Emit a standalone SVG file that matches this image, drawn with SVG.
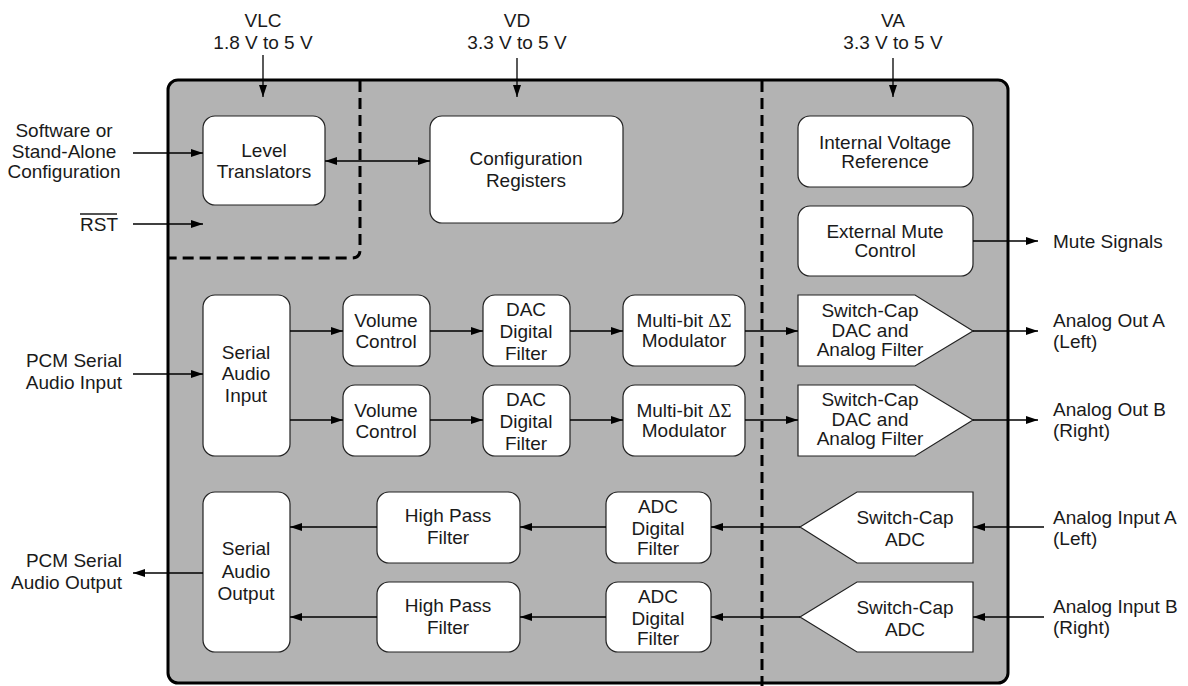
<svg xmlns="http://www.w3.org/2000/svg" width="1188" height="686" viewBox="0 0 1188 686">
<defs>
<marker id="ah" viewBox="0 0 12 8" refX="12" refY="4" markerWidth="12" markerHeight="8" markerUnits="userSpaceOnUse" orient="auto-start-reverse">
<path d="M0,0 L12,4 L0,8 Z" fill="#000"/>
</marker>
</defs>
<style>
text{font-family:"Liberation Sans",Arial,sans-serif;font-size:19px;fill:#1a1a1a}
.c{text-anchor:middle}
.r{text-anchor:end}
.s{font-family:"Liberation Serif","Times New Roman",serif}
.b{fill:#fff;stroke:#222;stroke-width:1.2}
.w{stroke:#000;stroke-width:1.3;fill:none;marker-end:url(#ah)}
.d{stroke:#000;stroke-width:3;fill:none;stroke-dasharray:11 6}
</style>
<rect x="168" y="80" width="840" height="603" rx="10" fill="#b3b3b3" stroke="#000" stroke-width="3"/>
<path class="d" d="M360,81 V250 Q360,258 352,258 H169"/>
<path class="d" d="M762,81 V686"/>

<g id="labels-top">
<text class="c" x="263" y="27">VLC</text><text class="c" x="263" y="49">1.8 V to 5 V</text>
<text class="c" x="517" y="27">VD</text><text class="c" x="517" y="49">3.3 V to 5 V</text>
<text class="c" x="893" y="27">VA</text><text class="c" x="893" y="49">3.3 V to 5 V</text>
</g>
<g id="labels-left">
<text class="c" x="64" y="137">Software or</text>
<text class="c" x="64" y="158">Stand-Alone</text>
<text class="c" x="64" y="178">Configuration</text>
<text class="r" x="118" y="231">RST</text>
<line x1="80" y1="214" x2="117" y2="214" stroke="#1a1a1a" stroke-width="1.3"/>
<text class="r" x="122" y="367">PCM Serial</text>
<text class="r" x="122" y="389">Audio Input</text>
<text class="r" x="122" y="567">PCM Serial</text>
<text class="r" x="122" y="589">Audio Output</text>
</g>
<g id="labels-right">
<text x="1053" y="248">Mute Signals</text>
<text x="1053" y="327">Analog Out A</text><text x="1053" y="348">(Left)</text>
<text x="1053" y="416">Analog Out B</text><text x="1053" y="437">(Right)</text>
<text x="1053" y="524">Analog Input A</text><text x="1053" y="545">(Left)</text>
<text x="1053" y="613">Analog Input B</text><text x="1053" y="634">(Right)</text>
</g>

<g id="level-translators"><rect class="b" x="203" y="116" width="122" height="89" rx="12"/>
<text class="c" x="264" y="157">Level</text><text class="c" x="264" y="178">Translators</text></g>
<g id="config-registers"><rect class="b" x="430" y="116" width="193" height="107" rx="12"/>
<text class="c" x="526" y="165">Configuration</text><text class="c" x="526" y="187">Registers</text></g>
<g id="int-vref"><rect class="b" x="798" y="116" width="175" height="71" rx="12"/>
<text class="c" x="885" y="149">Internal Voltage</text><text class="c" x="885" y="168">Reference</text></g>
<g id="ext-mute"><rect class="b" x="798" y="206" width="175" height="70" rx="12"/>
<text class="c" x="885" y="238">External Mute</text><text class="c" x="885" y="257">Control</text></g>

<g id="serial-audio-input"><rect class="b" x="203" y="295" width="87" height="161" rx="12"/>
<text class="c" x="246" y="359">Serial</text><text class="c" x="246" y="380">Audio</text><text class="c" x="246" y="402">Input</text></g>
<g id="volume-a"><rect class="b" x="343" y="295" width="87" height="71" rx="12"/>
<text class="c" x="386" y="327">Volume</text><text class="c" x="386" y="348">Control</text></g>
<g id="volume-b"><rect class="b" x="343" y="385" width="87" height="71" rx="12"/>
<text class="c" x="386" y="417">Volume</text><text class="c" x="386" y="438">Control</text></g>
<g id="dac-filter-a"><rect class="b" x="483" y="295" width="87" height="71" rx="12"/>
<text class="c" x="526" y="316">DAC</text><text class="c" x="526" y="338">Digital</text><text class="c" x="526" y="360">Filter</text></g>
<g id="dac-filter-b"><rect class="b" x="483" y="385" width="87" height="71" rx="12"/>
<text class="c" x="526" y="406">DAC</text><text class="c" x="526" y="428">Digital</text><text class="c" x="526" y="450">Filter</text></g>
<g id="mod-a"><rect class="b" x="623" y="295" width="122" height="71" rx="12"/>
<text class="c" x="684" y="327">Multi-bit <tspan class="s">ΔΣ</tspan></text><text class="c" x="684" y="347">Modulator</text></g>
<g id="mod-b"><rect class="b" x="623" y="385" width="122" height="71" rx="12"/>
<text class="c" x="684" y="417">Multi-bit <tspan class="s">ΔΣ</tspan></text><text class="c" x="684" y="437">Modulator</text></g>
<g id="scdac-a"><path class="b" d="M798,295 H915 L973,331 L915,366 H798 Z"/>
<text class="c" x="870" y="317">Switch-Cap</text><text class="c" x="870" y="337">DAC and</text><text class="c" x="870" y="356">Analog Filter</text></g>
<g id="scdac-b"><path class="b" d="M798,385 H915 L973,420 L915,456 H798 Z"/>
<text class="c" x="870" y="406">Switch-Cap</text><text class="c" x="870" y="426">DAC and</text><text class="c" x="870" y="445">Analog Filter</text></g>

<g id="serial-audio-output"><rect class="b" x="203" y="492" width="87" height="160" rx="12"/>
<text class="c" x="246" y="555">Serial</text><text class="c" x="246" y="578">Audio</text><text class="c" x="246" y="600">Output</text></g>
<g id="hpf-a"><rect class="b" x="377" y="492" width="143" height="71" rx="12"/>
<text class="c" x="448" y="522">High Pass</text><text class="c" x="448" y="544">Filter</text></g>
<g id="hpf-b"><rect class="b" x="377" y="582" width="143" height="70" rx="12"/>
<text class="c" x="448" y="612">High Pass</text><text class="c" x="448" y="634">Filter</text></g>
<g id="adc-filter-a"><rect class="b" x="606" y="492" width="105" height="71" rx="12"/>
<text class="c" x="658" y="513">ADC</text><text class="c" x="658" y="535">Digital</text><text class="c" x="658" y="555">Filter</text></g>
<g id="adc-filter-b"><rect class="b" x="606" y="582" width="105" height="70" rx="12"/>
<text class="c" x="658" y="603">ADC</text><text class="c" x="658" y="625">Digital</text><text class="c" x="658" y="645">Filter</text></g>
<g id="scadc-a"><path class="b" d="M973,492 H857 L800,527 L857,563 H973 Z"/>
<text class="c" x="905" y="524">Switch-Cap</text><text class="c" x="905" y="546">ADC</text></g>
<g id="scadc-b"><path class="b" d="M973,582 H857 L800,617 L857,652 H973 Z"/>
<text class="c" x="905" y="614">Switch-Cap</text><text class="c" x="905" y="636">ADC</text></g>

<g id="connectors">
<line class="w" x1="263" y1="55" x2="263" y2="97"/>
<line class="w" x1="517" y1="58" x2="517" y2="97"/>
<line class="w" x1="893" y1="58" x2="893" y2="97"/>
<line class="w" x1="133" y1="153" x2="203" y2="153"/>
<line class="w" x1="133" y1="224" x2="203" y2="224"/>
<line class="w" x1="325" y1="161" x2="430" y2="161" marker-start="url(#ah)"/>
<line class="w" x1="973" y1="241" x2="1038" y2="241"/>
<line class="w" x1="133" y1="374" x2="203" y2="374"/>
<line class="w" x1="290" y1="331" x2="343" y2="331"/>
<line class="w" x1="290" y1="420" x2="343" y2="420"/>
<line class="w" x1="430" y1="331" x2="483" y2="331"/>
<line class="w" x1="430" y1="420" x2="483" y2="420"/>
<line class="w" x1="570" y1="331" x2="623" y2="331"/>
<line class="w" x1="570" y1="420" x2="623" y2="420"/>
<line class="w" x1="745" y1="331" x2="798" y2="331"/>
<line class="w" x1="745" y1="420" x2="798" y2="420"/>
<line class="w" x1="973" y1="331" x2="1038" y2="331"/>
<line class="w" x1="973" y1="420" x2="1038" y2="420"/>
<line class="w" x1="1044" y1="527" x2="973" y2="527"/>
<line class="w" x1="1044" y1="617" x2="973" y2="617"/>
<line class="w" x1="800" y1="527" x2="711" y2="527"/>
<line class="w" x1="800" y1="617" x2="711" y2="617"/>
<line class="w" x1="606" y1="527" x2="520" y2="527"/>
<line class="w" x1="606" y1="617" x2="520" y2="617"/>
<line class="w" x1="377" y1="527" x2="290" y2="527"/>
<line class="w" x1="377" y1="617" x2="290" y2="617"/>
<line class="w" x1="203" y1="573" x2="133" y2="573"/>
</g>
</svg>
